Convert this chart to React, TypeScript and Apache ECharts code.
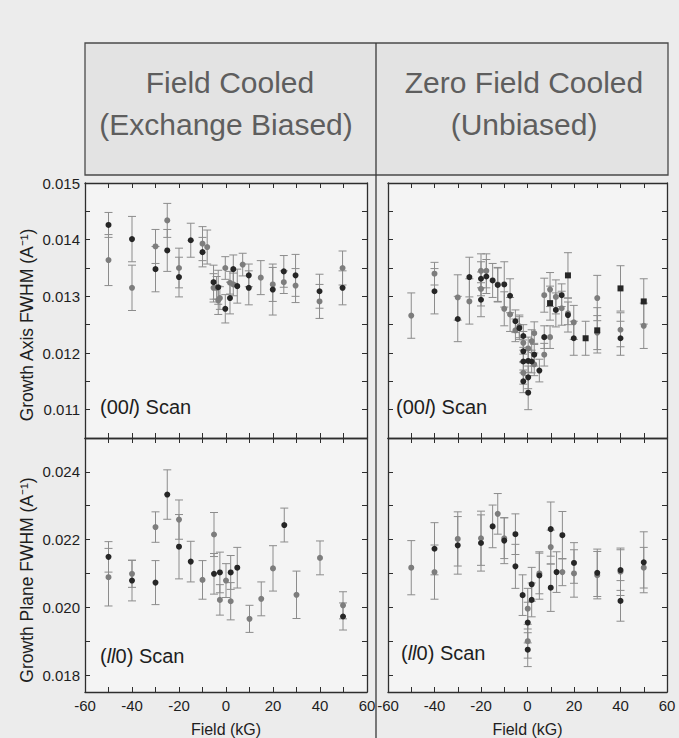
import React, { useEffect, useRef } from "react";
import * as echarts from "echarts";

// Each point: [field (kG), FWHM, error]
const fcAxisDark = [
  [-50, 0.01426, 0.00022], [-40, 0.01401, 0.0004], [-30, 0.01348, 0.0004], [-25, 0.01381, 0.00037],
  [-20, 0.01334, 0.00035], [-15, 0.01399, 0.0003], [-10, 0.01378, 0.00026], [-5.3, 0.01325, 0.0003],
  [-3.3, 0.01316, 0.0003], [-0.3, 0.01278, 0.00025], [1.7, 0.01297, 0.00028], [3.1, 0.01348, 0.00025],
  [4.8, 0.01318, 0.0003], [9.7, 0.01337, 0.0002], [9.7, 0.01315, 0.0003], [19.9, 0.01312, 0.00045],
  [24.6, 0.01344, 0.00028], [29.6, 0.01337, 0.00037], [39.8, 0.01309, 0.0003], [49.6, 0.01315, 0.0003],
];
const fcAxisGray = [
  [-50, 0.01364, 0.00045], [-40, 0.01315, 0.0004], [-30, 0.01388, 0.0003], [-25, 0.01434, 0.0003],
  [-20, 0.0135, 0.00035], [-10, 0.01393, 0.0003], [-8, 0.01387, 0.0003], [-5.3, 0.01315, 0.00025],
  [-4, 0.01315, 0.0002], [-3.3, 0.01293, 0.00025], [-2.6, 0.01297, 0.0002], [-0.3, 0.0135, 0.0002],
  [1.7, 0.01324, 0.0002], [3.1, 0.01321, 0.0002], [7.1, 0.01356, 0.0002], [14.8, 0.01333, 0.0003],
  [19.9, 0.01321, 0.0003], [24.6, 0.01325, 0.0002], [29.6, 0.01319, 0.0003], [39.8, 0.01291, 0.0003],
  [49.6, 0.0135, 0.0003],
];
const zfcAxisDark = [
  [-40, 0.01309, 0.0004], [-30, 0.0126, 0.0004], [-25, 0.01334, 0.00035], [-20, 0.01331, 0.0003],
  [-20, 0.01294, 0.0003], [-17.7, 0.01335, 0.0003], [-15, 0.01328, 0.0003], [-12.8, 0.0132, 0.0003],
  [-10, 0.01321, 0.0004], [-7.5, 0.01301, 0.0003], [-5.2, 0.01256, 0.0002], [-3.5, 0.01244, 0.0002],
  [-1.8, 0.0123, 0.0002], [-1.8, 0.01203, 0.0002], [-1.8, 0.01185, 0.0002], [-1.8, 0.0115, 0.0002],
  [0.3, 0.01186, 0.0002], [0.3, 0.01157, 0.0002], [0.3, 0.0113, 0.0003], [1.8, 0.01185, 0.0002],
  [2.9, 0.01197, 0.0002], [5.1, 0.01169, 0.0002], [7.2, 0.01228, 0.0002], [12.2, 0.01276, 0.0003],
  [14.7, 0.01302, 0.0002], [17.4, 0.01267, 0.0003], [19.9, 0.01226, 0.0003], [40, 0.01226, 0.0003],
];
const zfcAxisSquare = [
  [9.7, 0.01288, 0.0003], [17.4, 0.01337, 0.0004], [25, 0.01226, 0.0003], [30, 0.0124, 0.0004],
  [40, 0.01314, 0.0004], [50, 0.01291, 0.0004],
];
const zfcAxisGray = [
  [-50, 0.01266, 0.0004], [-40, 0.0134, 0.0002], [-30, 0.01298, 0.0004], [-25, 0.01291, 0.0004],
  [-20, 0.01345, 0.0003], [-20, 0.01313, 0.0003], [-17.7, 0.01345, 0.0003], [-12.8, 0.01321, 0.0003],
  [-10, 0.01278, 0.0003], [-7.5, 0.01268, 0.0003], [-5.2, 0.0124, 0.0002], [-3.5, 0.01247, 0.0002],
  [-1.8, 0.01218, 0.0002], [-1.8, 0.01165, 0.0002], [0.3, 0.01208, 0.0002], [1.8, 0.01221, 0.0002],
  [2.9, 0.01235, 0.0002], [2.9, 0.0118, 0.0002], [7.2, 0.01302, 0.0003], [7.2, 0.01197, 0.0002],
  [9.7, 0.01312, 0.0003], [9.7, 0.01228, 0.0002], [12.2, 0.01299, 0.0003], [14.7, 0.01279, 0.0003],
  [17.4, 0.0127, 0.0002], [19.9, 0.01254, 0.0003], [30, 0.01297, 0.0004], [30, 0.01236, 0.0003],
  [40, 0.01241, 0.0003], [50, 0.01248, 0.0004],
];
const fcPlaneDark = [
  [-50, 0.02149, 0.00045], [-40, 0.02079, 0.0006], [-30, 0.02073, 0.00065], [-25, 0.02333, 0.00073],
  [-20, 0.02179, 0.00095], [-15, 0.02135, 0.0006], [-5.1, 0.02099, 0.0006], [-2.6, 0.02103, 0.0006],
  [2, 0.02103, 0.0005], [4.8, 0.02117, 0.0006], [24.8, 0.02243, 0.0005], [49.8, 0.01973, 0.0004],
];
const fcPlaneGray = [
  [-50, 0.02089, 0.00085], [-40, 0.02099, 0.0004], [-30, 0.02237, 0.00045], [-20, 0.02259, 0.00058],
  [-10, 0.02081, 0.00057], [-5.1, 0.02215, 0.00065], [-2.6, 0.02022, 0.00045], [0, 0.02079, 0.0005],
  [2, 0.02018, 0.00055], [10, 0.01966, 0.0004], [15, 0.02025, 0.0005], [20, 0.02115, 0.00067],
  [30, 0.02037, 0.0007], [40, 0.02146, 0.0005], [49.8, 0.02006, 0.0004],
];
const zfcPlaneDark = [
  [-40, 0.02173, 0.00077], [-30, 0.02183, 0.00085], [-20, 0.0219, 0.00083], [-15, 0.02239, 0.00063],
  [-10, 0.02197, 0.00068], [-5.2, 0.02216, 0.0006], [-5.2, 0.02121, 0.00065], [-2.1, 0.02036, 0.0006],
  [0.1, 0.01955, 0.0006], [0.1, 0.01875, 0.0005], [1.8, 0.02068, 0.0005], [1.8, 0.02022, 0.0005],
  [5.1, 0.02094, 0.0007], [10, 0.02231, 0.0008], [10, 0.02058, 0.0007], [12.5, 0.02104, 0.0006],
  [15, 0.02213, 0.0007], [20, 0.02131, 0.0006], [30, 0.02102, 0.0007], [40, 0.0211, 0.0006],
  [40, 0.02019, 0.0006], [50, 0.02133, 0.0009],
];
const zfcPlaneGray = [
  [-50, 0.02117, 0.0008], [-40, 0.02104, 0.0008], [-30, 0.02202, 0.0008], [-20, 0.02204, 0.0008],
  [-12.8, 0.02276, 0.0006], [-10, 0.02204, 0.0006], [0.1, 0.01996, 0.0006], [0.1, 0.019, 0.0005],
  [5.1, 0.021, 0.0006], [10, 0.02178, 0.0005], [15, 0.02104, 0.0004], [20, 0.021, 0.0007],
  [30, 0.02095, 0.0007], [40, 0.02105, 0.0007], [50, 0.02117, 0.0006],
];

const axisYTicks = [0.011, 0.0115, 0.012, 0.0125, 0.013, 0.0135, 0.014, 0.0145, 0.015];
const axisYLabels = [0.011, 0.012, 0.013, 0.014, 0.015];
const planeYTicks = [0.018, 0.019, 0.02, 0.021, 0.022, 0.023, 0.024, 0.025];
const planeYLabels = [0.018, 0.02, 0.022, 0.024];
const fieldLabels = [-60, -40, -20, 0, 20, 40, 60];

const FONT = "'Liberation Sans', Arial, sans-serif";
const LINE = "#2e2e2e";

function xAxisDef(grid: number, position: string, showLabel: boolean, name: string) {
  return {
    type: "value", gridIndex: grid, position, min: -60, max: 60, interval: 10,
    axisLine: { show: true, onZero: false, lineStyle: { color: LINE, width: 1.3 } },
    axisTick: { show: true, inside: true, length: 5, lineStyle: { color: LINE, width: 1 } },
    axisLabel: {
      show: showLabel, color: "#1e1e1e", fontSize: 15, fontFamily: FONT, margin: 6,
      formatter: (v: number) => (fieldLabels.indexOf(Math.round(v)) >= 0 ? String(Math.round(v)) : ""),
    },
    splitLine: { show: false },
    name, nameLocation: "middle", nameGap: 29,
    nameTextStyle: { color: "#1e1e1e", fontSize: 16, fontFamily: FONT },
  };
}

function yAxisDef(grid: number, position: string, min: number, max: number, ticks: number[], labels: number[], showLabel: boolean) {
  return {
    type: "value", gridIndex: grid, position, min, max,
    axisLine: { show: true, onZero: false, lineStyle: { color: LINE, width: 1.3 } },
    axisTick: { show: true, inside: true, length: 5, customValues: ticks, lineStyle: { color: LINE, width: 1 } },
    axisLabel: {
      show: showLabel, customValues: labels, color: "#1e1e1e", fontSize: 15, fontFamily: FONT, margin: 5,
      formatter: (v: number) => v.toFixed(3),
    },
    splitLine: { show: false },
  };
}

function errorSeries(data: number[][], idx: number, color: string) {
  return {
    type: "custom", xAxisIndex: idx, yAxisIndex: idx, data, z: 2, clip: true,
    encode: { x: 0, y: 1 },
    renderItem: (params: any, api: any) => {
      const x = api.value(0), y = api.value(1), e = api.value(2);
      const t = api.coord([x, y + e]);
      const b = api.coord([x, y - e]);
      const cap = 4;
      const style = { stroke: color, lineWidth: 1 };
      return {
        type: "group",
        children: [
          { type: "line", shape: { x1: t[0], y1: t[1], x2: b[0], y2: b[1] }, style },
          { type: "line", shape: { x1: t[0] - cap, y1: t[1], x2: t[0] + cap, y2: t[1] }, style },
          { type: "line", shape: { x1: b[0] - cap, y1: b[1], x2: b[0] + cap, y2: b[1] }, style },
        ],
      };
    },
  };
}

function pointSeries(data: number[][], idx: number, color: string, symbol = "circle") {
  return {
    type: "scatter", xAxisIndex: idx, yAxisIndex: idx, z: 3,
    data: data.map((d) => [d[0], d[1]]),
    symbol, symbolSize: 6,
    itemStyle: { color, opacity: 1 },
  };
}

export default function App() {
  const ref = useRef<HTMLDivElement>(null);
  useEffect(() => {
    document.body.style.margin = "0";
    document.body.style.background = "#ececec";
    const chart = echarts.init(ref.current!, null, { renderer: "svg" });
    const grids = [
      { left: 85, top: 183, width: 282, height: 255 },
      { left: 388, top: 183, width: 279, height: 255 },
      { left: 85, top: 438, width: 282, height: 256 },
      { left: 388, top: 438, width: 279, height: 256 },
    ].map((g) => ({ ...g, show: true, backgroundColor: "#f4f4f4", borderWidth: 0 }));

    const xAxes: any[] = [];
    const yAxes: any[] = [];
    for (let i = 0; i < 4; i++) {
      const bottomRow = i >= 2;
      xAxes[i] = xAxisDef(i, "bottom", bottomRow, bottomRow ? "Field (kG)" : "");
      xAxes[i + 4] = xAxisDef(i, "top", false, "");
      const isAxis = i < 2;
      const min = isAxis ? 0.0105 : 0.0175;
      const max = isAxis ? 0.015 : 0.025;
      const ticks = isAxis ? axisYTicks : planeYTicks;
      const labels = isAxis ? axisYLabels : planeYLabels;
      yAxes[i] = yAxisDef(i, "left", min, max, ticks, labels, i % 2 === 0);
      yAxes[i + 4] = yAxisDef(i, "right", min, max, ticks, labels, false);
    }

    const DARK = "#262626";
    const GRAY = "#7d7d7d";
    const BAR = "#8c8c8c";
    const panels = [
      [fcAxisDark, fcAxisGray, []],
      [zfcAxisDark, zfcAxisGray, zfcAxisSquare],
      [fcPlaneDark, fcPlaneGray, []],
      [zfcPlaneDark, zfcPlaneGray, []],
    ];
    const series: any[] = [];
    panels.forEach((p, i) => {
      series.push(errorSeries(p[1], i, BAR));
      series.push(errorSeries(p[0], i, BAR));
      if (p[2].length) series.push(errorSeries(p[2], i, BAR));
      series.push(pointSeries(p[1], i, GRAY));
      series.push(pointSeries(p[0], i, DARK));
      if (p[2].length) series.push(pointSeries(p[2], i, DARK, "rect"));
    });

    const scanStyle = { fontSize: 20, fontFamily: FONT, fill: "#1e1e1e", verticalAlign: "middle", align: "left" };
    const rich = { it: { fontStyle: "italic", fontSize: 20, fontFamily: FONT, fill: "#1e1e1e" } };
    const headStyle = { fontSize: 30, fontFamily: FONT, fill: "#5e5e5e", align: "center", verticalAlign: "middle" };
    const nameStyle = { fontSize: 17.5, fontFamily: FONT, fill: "#1e1e1e", align: "center", verticalAlign: "middle" };

    chart.setOption({
      animation: false,
      backgroundColor: "#ececec",
      grid: grids,
      xAxis: xAxes,
      yAxis: yAxes,
      series,
      graphic: [
        { type: "rect", shape: { x: 85, y: 43, width: 583, height: 132 }, style: { fill: "#e3e3e3", stroke: "#4a4a4a", lineWidth: 1.3 }, z: 1 },
        { type: "line", shape: { x1: 376, y1: 43, x2: 376, y2: 738 }, style: { stroke: "#3a3a3a", lineWidth: 1.3 }, z: 1 },
        { type: "text", x: 230, y: 82, style: { ...headStyle, text: "Field Cooled" }, z: 2 },
        { type: "text", x: 226, y: 124, style: { ...headStyle, text: "(Exchange Biased)" }, z: 2 },
        { type: "text", x: 524, y: 82, style: { ...headStyle, text: "Zero Field Cooled" }, z: 2 },
        { type: "text", x: 524, y: 124, style: { ...headStyle, text: "(Unbiased)" }, z: 2 },
        { type: "text", x: 100, y: 407, style: { ...scanStyle, text: "(00{it|l}) Scan", rich }, z: 10 },
        { type: "text", x: 396, y: 407, style: { ...scanStyle, text: "(00{it|l}) Scan", rich }, z: 10 },
        { type: "text", x: 100, y: 656, style: { ...scanStyle, text: "({it|ll}0) Scan", rich }, z: 10 },
        { type: "text", x: 401, y: 653, style: { ...scanStyle, text: "({it|ll}0) Scan", rich }, z: 10 },
        { type: "text", x: 27, y: 325, rotation: Math.PI / 2, style: { ...nameStyle, text: "Growth Axis FWHM (A\u207B\u00B9)" }, z: 10 },
        { type: "text", x: 27, y: 580, rotation: Math.PI / 2, style: { ...nameStyle, text: "Growth Plane FWHM (A\u207B\u00B9)" }, z: 10 },
      ],
    });
    return () => chart.dispose();
  }, []);
  return <div ref={ref} style={{ width: 679, height: 738, background: "#ececec" }} />;
}
